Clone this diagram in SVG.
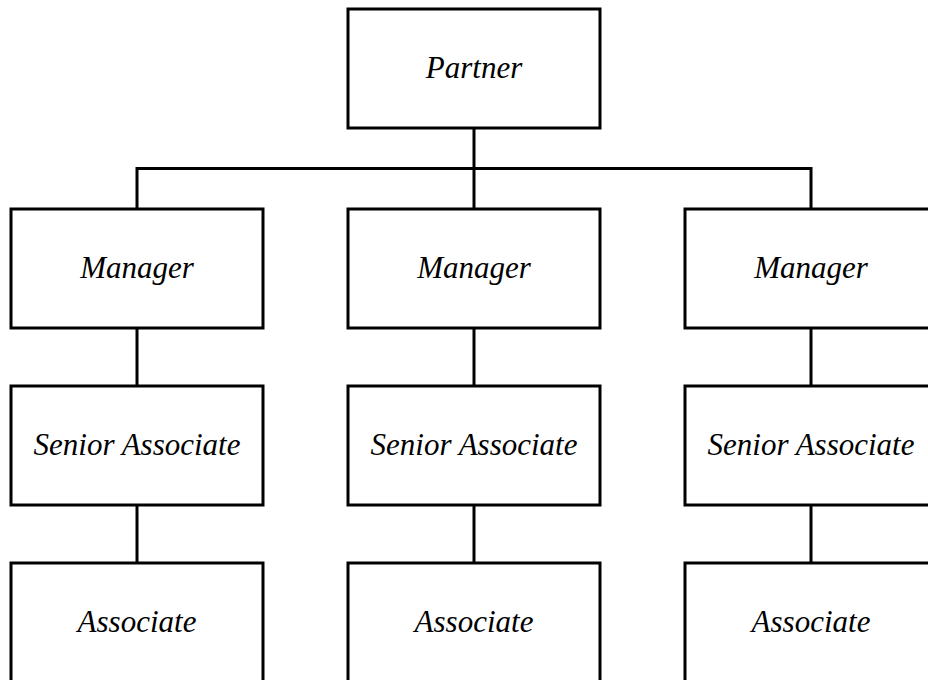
<svg xmlns="http://www.w3.org/2000/svg" width="928" height="680" viewBox="0 0 928 680">
<style>
.box{fill:#fff;stroke:#000;stroke-width:3}
.lbl{font-family:'Liberation Serif','Times New Roman','DejaVu Serif',serif;font-style:italic;font-size:31px;fill:#000;text-anchor:middle}
.con{fill:none;stroke:#000;stroke-width:3}
</style>
<rect width="928" height="680" fill="#fff"/>
<g id="connectors">
<line class="con" x1="474" y1="128" x2="474" y2="209"/>
<polyline class="con" points="137,209 137,168.5 811,168.5 811,209"/>
<line class="con" x1="137" y1="328" x2="137" y2="386"/>
<line class="con" x1="474" y1="328" x2="474" y2="386"/>
<line class="con" x1="811" y1="328" x2="811" y2="386"/>
<line class="con" x1="137" y1="505" x2="137" y2="563"/>
<line class="con" x1="474" y1="505" x2="474" y2="563"/>
<line class="con" x1="811" y1="505" x2="811" y2="563"/>
</g>
<g id="partner"><rect class="box" x="348" y="9" width="252" height="119"/><text class="lbl" font-family="Liberation Serif, serif" x="474" y="78">Partner</text></g>
<g id="manager1"><rect class="box" x="11" y="209" width="252" height="119"/><text class="lbl" x="137" y="278">Manager</text></g>
<g id="manager2"><rect class="box" x="348" y="209" width="252" height="119"/><text class="lbl" x="474" y="278">Manager</text></g>
<g id="manager3"><rect class="box" x="685" y="209" width="252" height="119"/><text class="lbl" x="811" y="278">Manager</text></g>
<g id="senior1"><rect class="box" x="11" y="386" width="252" height="119"/><text class="lbl" x="137" y="455">Senior Associate</text></g>
<g id="senior2"><rect class="box" x="348" y="386" width="252" height="119"/><text class="lbl" x="474" y="455">Senior Associate</text></g>
<g id="senior3"><rect class="box" x="685" y="386" width="252" height="119"/><text class="lbl" x="811" y="455">Senior Associate</text></g>
<g id="associate1"><rect class="box" x="11" y="563" width="252" height="125"/><text class="lbl" x="137" y="632">Associate</text></g>
<g id="associate2"><rect class="box" x="348" y="563" width="252" height="125"/><text class="lbl" x="474" y="632">Associate</text></g>
<g id="associate3"><rect class="box" x="685" y="563" width="252" height="125"/><text class="lbl" x="811" y="632">Associate</text></g>
</svg>
